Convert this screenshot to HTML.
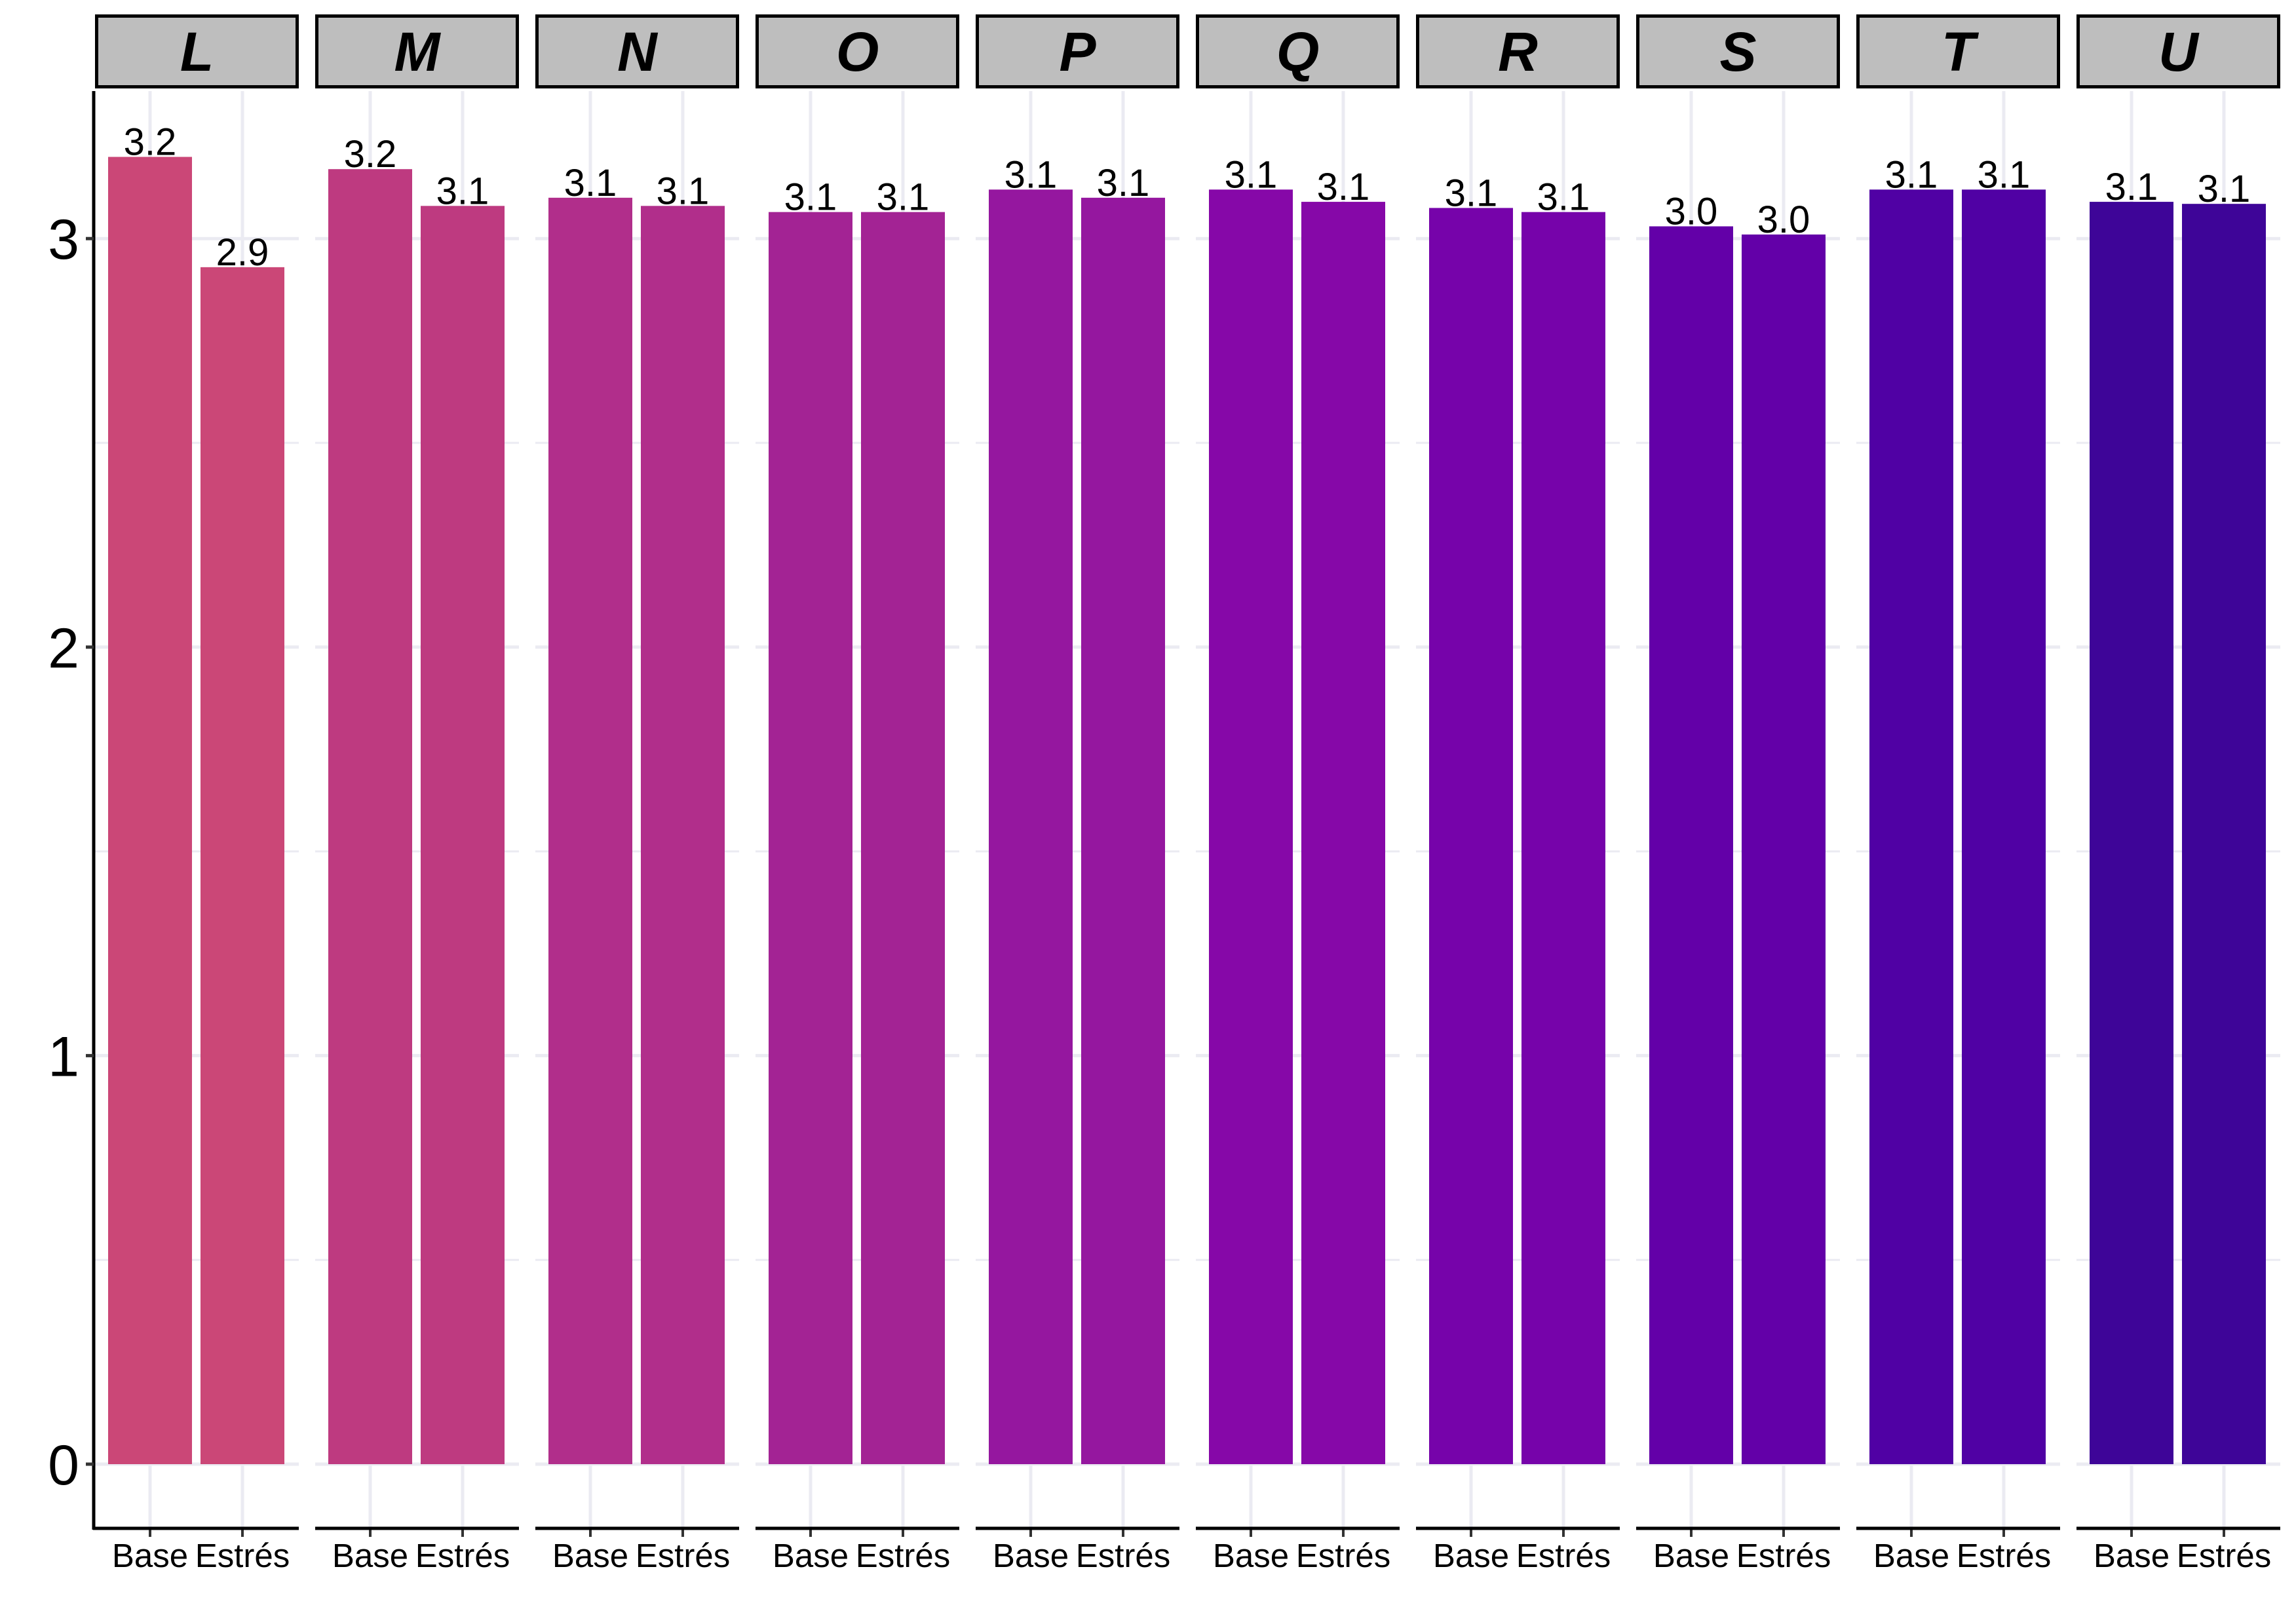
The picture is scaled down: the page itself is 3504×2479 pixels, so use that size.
<!DOCTYPE html>
<html><head><meta charset="utf-8"><style>
html,body{margin:0;padding:0;background:#fff;}
svg{display:block;font-family:"Liberation Sans",Arial,sans-serif;}
</style></head><body>
<svg id="chart" width="3504" height="2479" viewBox="0 0 3504 2479" xmlns="http://www.w3.org/2000/svg"></svg>
<script>
const panels = ["L","M","N","O","P","Q","R","S","T","U"];
const categories = ["Base","Estrés"];
const baseValues = [3.20,3.17,3.10,3.065,3.12,3.12,3.075,3.03,3.12,3.09];
const stressValues = [2.93,3.08,3.08,3.065,3.10,3.09,3.065,3.01,3.12,3.085];
const printedBase = ["3.2","3.2","3.1","3.1","3.1","3.1","3.1","3.0","3.1","3.1"];
const printedStress = ["2.9","3.1","3.1","3.1","3.1","3.1","3.1","3.0","3.1","3.1"];
const yTicks = [0,1,2,3];
const panelColors = ["#CB4777","#BE3A80","#B12E8B","#A32394","#95179F","#8608A8","#7603AA","#6300A8","#5001A4","#3E0598"];

const NS="http://www.w3.org/2000/svg";
const svg=document.getElementById('chart');
const Y0=2235, UNIT=623.6, TOP=139, BOTTOM=2333;
const PX0=145, PITCH=336, PW=311;
const yScale=v=>Y0-v*UNIT;
const xScale=(p,c)=>PX0+p*PITCH+84+c*141;
const BW=128;
function mk(tag,attrs,parent){const e=document.createElementNS(NS,tag);for(const k in attrs)e.setAttribute(k,attrs[k]);(parent||svg).appendChild(e);return e;}

for(let p=0;p<panels.length;p++){
  const px=PX0+p*PITCH;
  const g=mk('g',{});
  
  
  for(let v=0;v<=3.0001;v+=0.5){
    const major=Math.abs(v-Math.round(v))<1e-6;
    const l=mk('line',{x1:px,x2:px+PW,y1:yScale(v),y2:yScale(v),stroke:'#ebebf2','stroke-width':major?5:3},g);
    
    
  }
  for(let c=0;c<2;c++){
    const l=mk('line',{x1:xScale(p,c),x2:xScale(p,c),y1:TOP,y2:BOTTOM,stroke:'#ebebf2','stroke-width':5},g);
    
    
  }
  const vals=[baseValues[p],stressValues[p]], labs=[printedBase[p],printedStress[p]];
  for(let c=0;c<2;c++){
    const cx=xScale(p,c);
    const r=mk('rect',{x:cx-BW/2,y:yScale(vals[c]),width:BW,height:Y0-yScale(vals[c]),fill:panelColors[p]},g);
    
    
    const t=mk('text',{x:cx,y:yScale(vals[c])-3,'font-size':58,'text-anchor':'middle',fill:'#000'},g);
    t.textContent=labs[c];
    
    
    const tk=mk('line',{x1:cx,x2:cx,y1:BOTTOM,y2:BOTTOM+13,stroke:'#333','stroke-width':4},g);
    
    
    const xl=mk('text',{x:cx,y:2392,'font-size':51,'text-anchor':'middle',fill:'#000'},g);
    xl.textContent=categories[c];
    
    
  }
  const ax=mk('line',{x1:px-(p===0?3:0),x2:px+PW,y1:BOTTOM,y2:BOTTOM,stroke:'#000','stroke-width':5},g);
  
  
  const s=mk('rect',{x:px+2.5,y:24.5,width:PW-5,height:108,fill:'#bebebe',stroke:'#000','stroke-width':5},g);
  
  
  const st=mk('text',{x:px+PW/2,y:108,'font-size':84,'font-weight':'bold','font-style':'italic','text-anchor':'middle',fill:'#000'},g);
  st.textContent=panels[p];
  
  
}
const ya=mk('line',{x1:143,x2:143,y1:TOP,y2:BOTTOM+2,stroke:'#000','stroke-width':5});


for(const v of yTicks){
  const tk=mk('line',{x1:131,x2:143,y1:yScale(v),y2:yScale(v),stroke:'#333','stroke-width':5});
  
  
  const t=mk('text',{x:121,y:yScale(v)+31,'font-size':86,'text-anchor':'end',fill:'#000'});
  t.textContent=String(v);
  
  
}
</script>
</body></html>
